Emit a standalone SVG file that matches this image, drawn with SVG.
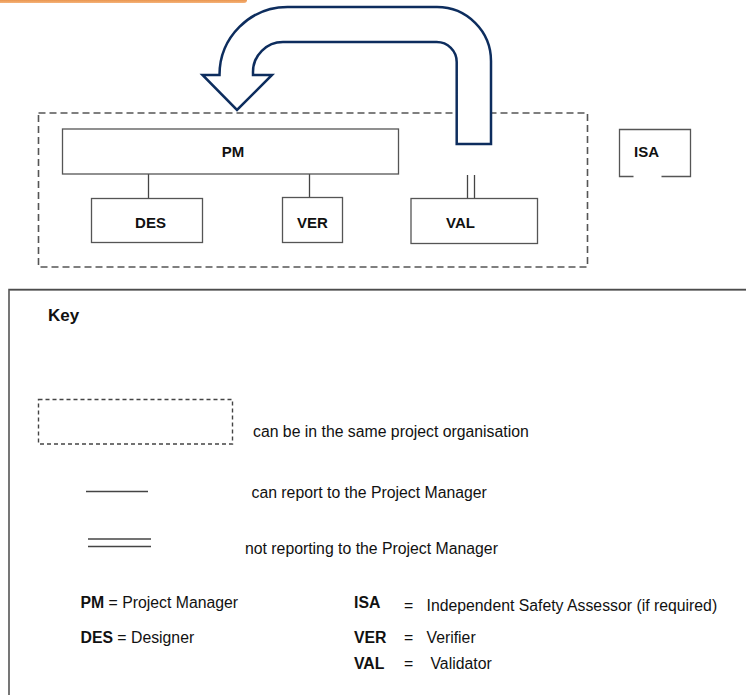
<svg xmlns="http://www.w3.org/2000/svg" width="746" height="695" viewBox="0 0 746 695">
  <defs>
    <linearGradient id="orangeBar" x1="0" y1="0" x2="0" y2="1">
      <stop offset="0" stop-color="#E07A22"/>
      <stop offset="1" stop-color="#F4B27A"/>
    </linearGradient>
  </defs>
  <style>
    .box { fill: #ffffff; stroke: #555555; stroke-width: 1.3; }
    .org { fill: none; stroke: #555555; stroke-width: 1.6; stroke-dasharray: 7 4; }
    .orgKey { fill: none; stroke: #444444; stroke-width: 1.4; stroke-dasharray: 4 3; }
    .link { stroke: #444444; stroke-width: 1.3; fill: none; }
    .lbl { font-family: "Liberation Sans", Arial, sans-serif; font-weight: bold; font-size: 15px; fill: #111111; }
    .txt { font-family: "Liberation Sans", Arial, sans-serif; font-size: 15.8px; fill: #111111; }
    .bold { font-weight: bold; }
    .turn { fill: #ffffff; stroke: #0D2D5E; stroke-width: 2.5; stroke-linejoin: miter; }
  </style>

  <rect width="746" height="695" fill="#ffffff"/>

  <!-- header accent bar -->
  <rect x="-4" y="-3" width="251" height="6" rx="3" fill="url(#orangeBar)"/>

  <!-- project organisation boundary -->
  <rect id="organisation" class="org" x="38.5" y="113" width="549" height="154"/>

  <!-- reporting links -->
  <g id="connectors">
    <line class="link" x1="148.5" y1="174" x2="148.5" y2="198"/>
    <line class="link" x1="309.5" y1="174" x2="309.5" y2="197"/>
    <line class="link" x1="467.5" y1="175" x2="467.5" y2="198"/>
    <line class="link" x1="474.5" y1="175" x2="474.5" y2="198"/>
  </g>

  <g id="pm">
    <rect class="box" x="62.5" y="129" width="336" height="45"/>
    <text class="lbl" x="233" y="157" text-anchor="middle">PM</text>
  </g>
  <g id="des">
    <rect class="box" x="91.5" y="198.5" width="111" height="44"/>
    <text class="lbl" x="150.5" y="228" text-anchor="middle">DES</text>
  </g>
  <g id="ver">
    <rect class="box" x="282.5" y="197.5" width="60" height="45"/>
    <text class="lbl" x="312.5" y="228" text-anchor="middle">VER</text>
  </g>
  <g id="val">
    <rect class="box" x="411" y="198.5" width="126.5" height="45"/>
    <text class="lbl" x="460.5" y="228" text-anchor="middle">VAL</text>
  </g>
  <g id="isa">
    <path class="link" d="M633.5 176.5 L619.5 176.5 L619.5 129.5 L690.5 129.5 L690.5 176.5 L661.5 176.5" style="stroke:#555555"/>
    <text class="lbl" x="634" y="157">ISA</text>
  </g>

  <!-- U-turn arrow from VAL back over the organisation -->
  <g id="feedback-arrow">
    <path class="turn" d="M456.7 144 L456.7 62 A20 20 0 0 0 436.7 42 L283 42 A30 30 0 0 0 253 72 L253 75 L272 75 L237 110 L202.5 75 L219.5 75 A68 68 0 0 1 287.5 7 L437 7 A54 54 0 0 1 491 61 L491 144 Z"/>
  </g>

  <!-- key panel -->
  <g id="key">
    <path d="M9 700 L9 289.5 L750 289.5" fill="none" stroke="#555555" stroke-width="1.6"/>
    <path d="M9.5 290 L750 290" fill="none" stroke="#444444" stroke-width="1"/>
    <text class="txt bold" x="48" y="321" style="font-size:17px">Key</text>

    <rect class="orgKey" x="38.5" y="399.5" width="194" height="44.5"/>
    <text class="txt" x="253" y="437">can be in the same project organisation</text>

    <line class="link" x1="86" y1="491.5" x2="148" y2="491.5"/>
    <text class="txt" x="251.5" y="498">can report to the Project Manager</text>

    <line class="link" x1="88" y1="539" x2="151" y2="539"/>
    <line class="link" x1="88" y1="546.5" x2="151" y2="546.5"/>
    <text class="txt" x="245" y="554">not reporting to the Project Manager</text>

    <text class="txt" x="80.5" y="608"><tspan class="bold">PM</tspan> = Project Manager</text>
    <text class="txt" x="80.5" y="643"><tspan class="bold">DES</tspan> = Designer</text>

    <text class="txt bold" x="354" y="608">ISA</text>
    <text class="txt" x="404" y="611">=</text>
    <text class="txt" x="426.5" y="611">Independent Safety Assessor (if required)</text>

    <text class="txt bold" x="354" y="643">VER</text>
    <text class="txt" x="404" y="643">=</text>
    <text class="txt" x="426.5" y="643">Verifier</text>

    <text class="txt bold" x="354" y="669">VAL</text>
    <text class="txt" x="404" y="669">=</text>
    <text class="txt" x="430.5" y="669">Validator</text>
  </g>
</svg>
